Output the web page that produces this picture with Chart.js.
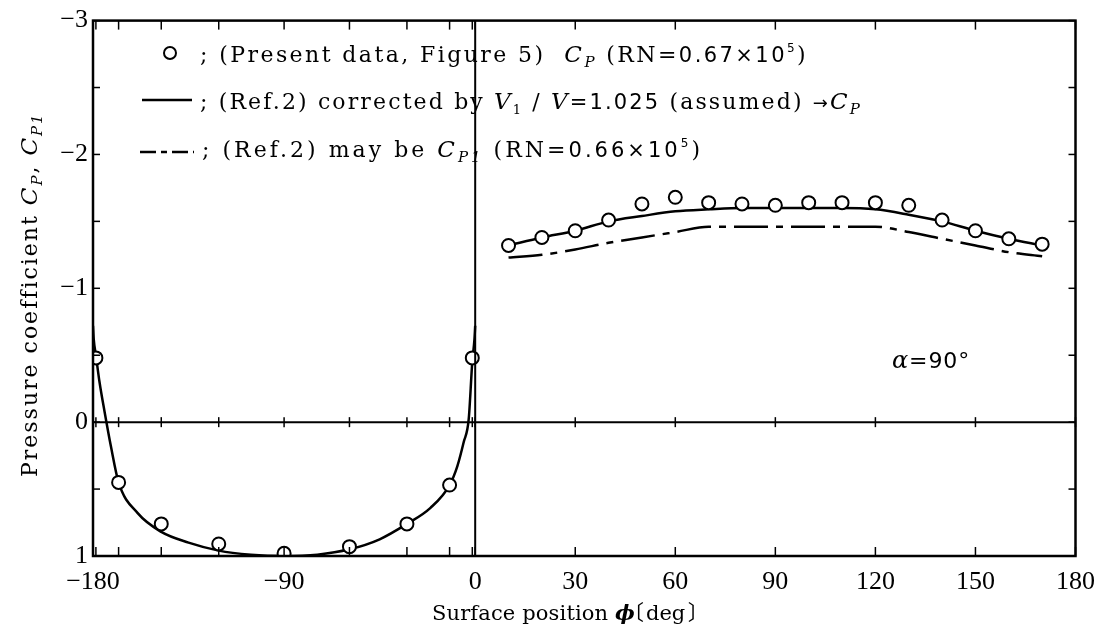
<!DOCTYPE html>
<html>
<head>
<meta charset="utf-8">
<script src="https://cdn.jsdelivr.net/npm/chart.js@4.4.1/dist/chart.umd.min.js"></script>
<style>
  html, body { margin: 0; padding: 0; background: #fff; }
  canvas { display: block; }
</style>
</head>
<body>
<canvas id="myChart" width="1106" height="627"></canvas>
<script>
// measured points (present data, Figure 5)
const leftPhi = [-170, -150, -130, -110, -90, -70, -50, -30, -10];
const leftCp = [-0.48, 0.45, 0.76, 0.91, 0.98, 0.93, 0.76, 0.47, -0.48];
const rightPhi = [10, 20, 30, 40, 50, 60, 70, 80, 90, 100, 110, 120, 130, 140, 150, 160, 170];
const rightCp = [-1.32, -1.38, -1.43, -1.51, -1.63, -1.68, -1.64, -1.63, -1.62, -1.64, -1.64, -1.64, -1.62, -1.51, -1.43, -1.37, -1.33];

// Ref.2 corrected by V1/V (solid line)
const curvePhiLeft = [-180, -175, -170, -165, -160, -155, -150, -140, -130, -120, -110, -100, -90, -80, -70, -60, -50, -40, -30, -25, -20, -15, -10, -5, 0];
const curveCpLeft = [-0.72, -0.62, -0.5, -0.3, -0.08, 0.18, 0.45, 0.68, 0.82, 0.9, 0.96, 0.99, 1.0, 0.99, 0.95, 0.875, 0.76, 0.64, 0.47, 0.33, 0.15, -0.02, -0.45, -0.62, -0.72];
const curvePhiRight = [10, 20, 30, 40, 50, 60, 70, 80, 90, 100, 110, 120, 130, 140, 150, 160, 170];
const curveCpRight = [-1.32, -1.38, -1.43, -1.5, -1.54, -1.575, -1.59, -1.6, -1.6, -1.6, -1.6, -1.59, -1.55, -1.5, -1.43, -1.37, -1.32];
// Ref.2 may be Cp1 (dash-dot line)
const curveCp1Right = [-1.23, -1.25, -1.29, -1.34, -1.38, -1.42, -1.46, -1.46, -1.46, -1.46, -1.46, -1.46, -1.42, -1.37, -1.32, -1.27, -1.24];

// axes
const xTicks = [-180, -170, -150, -130, -110, -90, -70, -50, -30, -10, 0, 30, 60, 90, 120, 150, 180];
const xLabelled = [-180, -90, 0, 30, 60, 90, 120, 150, 180];
const yMin = -3, yMax = 1, yStep = 0.5;

const LEFT_SHARE = 0.389; // part of the width used by the -180..0 side
const TICKFONT = '"Liberation Serif", "Times New Roman", serif';
const SERIF = '"DejaVu Serif", "Liberation Serif", "Noto Sans CJK JP", serif';
const SANS = '"DejaVu Sans", "Liberation Sans", sans-serif';
const F = (size, style) => (style || '') + ' ' + size + 'px ' + SERIF;
const S = (size, style) => (style || '') + ' ' + size + 'px ' + SANS;
const fmt = v => v < 0 ? '\u2212' + (-v) : String(v);

// left half is drawn in projection (sin), right half linear
class SplitScale extends Chart.LinearScale {
  getPixelForValue(value) {
    const lw = this.width * LEFT_SHARE;
    if (value <= 0) {
      const half = -this.min / 2;
      const s = Math.sin((value + half) / half * Math.PI / 2);
      return this.left + lw * (s + 1) / 2;
    }
    return this.left + lw + (this.width - lw) * value / this.max;
  }
  getValueForPixel(pixel) {
    const lw = this.width * LEFT_SHARE;
    if (pixel <= this.left + lw) {
      const half = -this.min / 2;
      const s = Math.max(-1, Math.min(1, (pixel - this.left) / lw * 2 - 1));
      return Math.asin(s) / (Math.PI / 2) * half - half;
    }
    return (pixel - this.left - lw) / (this.width - lw) * this.max;
  }
}
SplitScale.id = 'split';
SplitScale.defaults = Chart.LinearScale.defaults;
Chart.register(SplitScale);

const pts = (xs, ys) => xs.map((x, i) => ({x: x, y: ys[i]}));

function line(ctx, x1, y1, x2, y2) {
  ctx.beginPath(); ctx.moveTo(x1, y1); ctx.lineTo(x2, y2); ctx.stroke();
}

// parts: [text, font, dy]; spacing is spread so the run fills width
function drawRich(ctx, parts, x, y, width) {
  let natural = 0, count = 0;
  ctx.letterSpacing = '0px';
  parts.forEach(p => { ctx.font = p[1]; natural += ctx.measureText(p[0]).width; count += [...p[0]].length; });
  const sp = width ? (width - natural) / count : 0;
  let cx = x;
  parts.forEach(p => {
    ctx.font = p[1];
    ctx.letterSpacing = sp + 'px';
    ctx.fillText(p[0], cx, y + (p[2] || 0));
    cx += ctx.measureText(p[0]).width;
  });
  ctx.letterSpacing = '0px';
  return cx;
}

// draws text so that its ink starts at inkLeft, returns where the ink ends
function drawInk(ctx, text, font, inkLeft, y) {
  ctx.font = font;
  ctx.letterSpacing = '0px';
  const m = ctx.measureText(text);
  const x = inkLeft + m.actualBoundingBoxLeft;
  ctx.fillText(text, x, y);
  return x + m.actualBoundingBoxRight;
}

const DASHDOT = [34, 8, 7, 8];

const framePlugin = {
  id: 'frame',
  afterDraw(chart) {
    const {ctx, chartArea: a, scales: {x, y}} = chart;
    ctx.save();
    ctx.strokeStyle = '#000';
    ctx.fillStyle = '#000';
    ctx.lineWidth = 2.5;
    ctx.strokeRect(a.left, a.top, a.right - a.left, a.bottom - a.top);
    const x0 = x.getPixelForValue(0), y0 = y.getPixelForValue(0);
    ctx.lineWidth = 2;
    line(ctx, x0, a.top, x0, a.bottom);
    line(ctx, a.left, y0, a.right, y0);
    ctx.lineWidth = 1.5;
    xTicks.forEach(v => {
      const px = x.getPixelForValue(v);
      line(ctx, px, a.bottom, px, a.bottom - 9);
      line(ctx, px, a.top, px, a.top + 9);
      line(ctx, px, y0 - 5, px, y0 + 5);
    });
    y.ticks.forEach(t => {
      const py = y.getPixelForValue(t.value);
      line(ctx, a.left, py, a.left + 7, py);
      line(ctx, a.right, py, a.right - 7, py);
    });

    // legend
    ctx.lineWidth = 2;
    ctx.fillStyle = '#fff';
    ctx.beginPath(); ctx.arc(170, 53, 6, 0, Math.PI * 2); ctx.fill(); ctx.stroke();
    ctx.fillStyle = '#000';
    ctx.lineWidth = 2.5;
    line(ctx, 142, 100, 192, 100);
    ctx.setLineDash([16, 5, 6, 5]);
    line(ctx, 140, 152, 194, 152);
    ctx.setLineDash([]);

    ctx.textBaseline = 'alphabetic';
    ctx.textAlign = 'left';
    drawRich(ctx, [
      ['; (Present data, Figure 5)  ', F(22)], ['C', F(23, 'italic')], ['P', F(15, 'italic'), 5],
      [' (RN=', F(22)], ['0.67\u00d710', S(21)], ['5', S(12), -10], [')', F(22)]
    ], 200, 62, 608);
    drawRich(ctx, [
      ['; (Ref.2) corrected by ', F(22)], ['V', F(23, 'italic')], ['1', F(13), 5], [' / ', F(22)],
      ['V', F(23, 'italic')], ['=1.025', S(21)], [' (assumed) ', F(22)], ['\u2192', S(18)],
      ['C', F(23, 'italic')], ['P', F(15, 'italic'), 5]
    ], 200, 109, 662);
    drawRich(ctx, [
      ['; (Ref.2) may be ', F(22)], ['C', F(23, 'italic')], ['P1', F(15, 'italic'), 5],
      [' (RN=', F(22)], ['0.66\u00d710', S(21)], ['5', S(12), -10], [')', F(22)]
    ], 202, 157, 501);

    drawRich(ctx, [['\u03b1', F(24, 'italic')], ['=90\u00b0', S(22)]], 892, 368, 78);

    // axis titles
    drawRich(ctx, [['Surface position ', F(21)], ['\u03d5', F(21, 'bold italic')]], 432, 620, 203);
    let ix = drawInk(ctx, '\u3014', F(21), 637, 620);
    ix = drawInk(ctx, 'deg', F(21), ix + 3, 620);
    drawInk(ctx, '\u3015', F(21), ix + 3, 620);

    ctx.translate(37, 477);
    ctx.rotate(-Math.PI / 2);
    drawRich(ctx, [
      ['Pressure coefficient ', F(22)], ['C', F(23, 'italic')], ['P', F(15, 'italic'), 5],
      [', ', F(22)], ['C', F(23, 'italic')], ['P1', F(15, 'italic'), 5]
    ], 0, 0, 364);
    ctx.restore();
  }
};

const ctx = document.getElementById('myChart');
new Chart(ctx, {
  type: 'scatter',
  data: {
    datasets: [
      {
        label: 'Present data',
        data: pts(leftPhi.concat(rightPhi), leftCp.concat(rightCp)),
        showLine: false,
        pointRadius: 6.5,
        pointBackgroundColor: '#fff',
        pointBorderColor: '#000',
        pointBorderWidth: 2,
        order: 0
      },
      {
        label: 'Ref.2 corrected',
        data: pts(curvePhiLeft, curveCpLeft),
        showLine: true,
        borderColor: '#000',
        borderWidth: 2.5,
        pointRadius: 0,
        cubicInterpolationMode: 'monotone',
        order: 1
      },
      {
        label: 'Ref.2 corrected right',
        data: pts(curvePhiRight, curveCpRight),
        showLine: true,
        borderColor: '#000',
        borderWidth: 2.5,
        pointRadius: 0,
        cubicInterpolationMode: 'monotone',
        order: 1
      },
      {
        label: 'Ref.2 Cp1',
        data: pts(curvePhiRight, curveCp1Right),
        showLine: true,
        borderColor: '#000',
        borderWidth: 2.5,
        borderDash: DASHDOT,
        pointRadius: 0,
        cubicInterpolationMode: 'monotone',
        order: 1
      }
    ]
  },
  options: {
    responsive: false,
    animation: false,
    events: [],
    layout: { padding: { top: 17, right: 28, left: 0, bottom: 0 } },
    plugins: { legend: { display: false }, tooltip: { enabled: false } },
    scales: {
      x: {
        type: 'split',
        min: -180,
        max: 180,
        afterBuildTicks: s => { s.ticks = xTicks.map(v => ({value: v})); },
        afterFit: s => { s.height = 71; },
        grid: { display: false, drawTicks: false },
        border: { display: false },
        ticks: {
          autoSkip: false, maxRotation: 0, padding: 11, color: '#000',
          font: { family: TICKFONT, size: 26 },
          callback: v => xLabelled.includes(v) ? fmt(v) : ''
        }
      },
      y: {
        min: yMin,
        max: yMax,
        reverse: true,
        afterFit: s => { s.width = 93; },
        grid: { display: false, drawTicks: false },
        border: { display: false },
        ticks: {
          stepSize: yStep, autoSkip: false, padding: 5, color: '#000',
          font: { family: TICKFONT, size: 26 },
          callback: v => Number.isInteger(v) ? fmt(v) : ''
        }
      }
    }
  },
  plugins: [framePlugin]
});
</script>
</body>
</html>
